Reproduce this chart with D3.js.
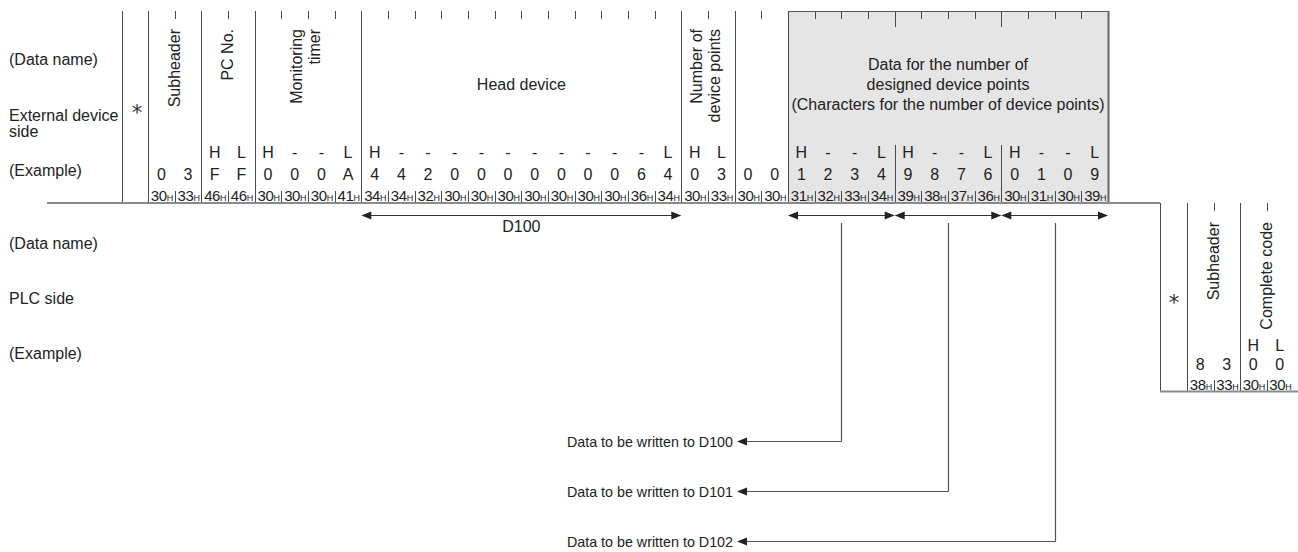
<!DOCTYPE html>
<html><head><meta charset="utf-8">
<script src="https://cdn.jsdelivr.net/npm/d3@7"></script>
<style>
body{margin:0;background:#fff}
svg text{font-family:"Liberation Sans",Arial,sans-serif;fill:#222;font-size:16px}
</style>
</head><body>
<svg id="c" width="1298" height="552"></svg>
<script>
// ---------------- data ----------------
const extFieldLines = [["Subheader"], ["PC No."], ["Monitoring", "timer"], ["Head device"],
  ["Number of", "device points"], [],
  ["Data for the number of", "designed device points", "(Characters for the number of device points)"]];
const extFieldChars = [2, 2, 4, 12, 2, 2, 12];
const extFieldRotated = [true, true, true, false, true, false, false];
const extHL = ["", "", "H", "L", "H", "-", "-", "L", "H", "-", "-", "-", "-", "-", "-", "-", "-", "-", "-", "L",
  "H", "L", "", "", "H", "-", "-", "L", "H", "-", "-", "L", "H", "-", "-", "L"];
const extValues = ["0", "3", "F", "F", "0", "0", "0", "A", "4", "4", "2", "0", "0", "0", "0", "0", "0", "0", "6", "4",
  "0", "3", "0", "0", "1", "2", "3", "4", "9", "8", "7", "6", "0", "1", "0", "9"];
const extHex = ["30", "33", "46", "46", "30", "30", "30", "41", "34", "34", "32", "30", "30", "30", "30", "30", "30", "30", "36", "34",
  "30", "33", "30", "30", "31", "32", "33", "34", "39", "38", "37", "36", "30", "31", "30", "39"];
const dataGroups = [[24, 28], [28, 32], [32, 36]];
const headSpan = [8, 20];
const headLabel = "D100";
const writeLabels = ["Data to be written to D100", "Data to be written to D101", "Data to be written to D102"];

const plcFieldLines = [["Subheader"], ["Complete code"]];
const plcFieldChars = [2, 2];
const plcHL = ["", "", "H", "L"];
const plcValues = ["8", "3", "0", "0"];
const plcHex = ["38", "33", "30", "30"];

const extRowLabels = ["(Data name)", "External device", "side", "(Example)"];
const plcRowLabels = ["(Data name)", "PLC side", "(Example)"];

// ---------------- drawing ----------------
(function () {
const svg = d3.select("#c");
const LINE = "#4a4a4a";
const x = d3.scaleLinear().domain([0, 36]).range([148, 1108]);
const xp = d3.scaleLinear().domain([0, 4]).range([1187, 1293]);

const yTop = 11, yBot = 202;

svg.append("rect").attr("x", x(24)).attr("y", yTop).attr("width", x(36) - x(24)).attr("height", yBot - yTop)
  .attr("fill", "#e5e5e5");
svg.append("line").attr("x1", x(24)).attr("x2", x(36)).attr("y1", yTop + 0.5).attr("y2", yTop + 0.5)
  .attr("stroke", "#555").attr("stroke-width", 1);

function vline(g, xx, y1, y2, col, w) {
  g.append("line").attr("x1", xx).attr("x2", xx).attr("y1", y1).attr("y2", y2)
    .attr("stroke", col || LINE).attr("stroke-width", w || 1);
}
function hline(g, x1, x2, yy, col, w) {
  g.append("line").attr("x1", x1).attr("x2", x2).attr("y1", yy).attr("y2", yy)
    .attr("stroke", col || LINE).attr("stroke-width", w || 1);
}
function star(g, cx, cy) {
  g.append("text").attr("x", cx).attr("y", cy + 12).attr("text-anchor", "middle")
    .style("font-family", "'DejaVu Sans'").style("font-size", "21px")
    .style("fill", "#333").text("*");
}

const bounds = [0];
extFieldChars.forEach(c => bounds.push(bounds[bounds.length - 1] + c));
vline(svg, 122.5, yTop, yBot);
bounds.forEach((b, i) => {
  const last = i === bounds.length - 1;
  vline(svg, Math.round(x(b)) + 0.5, yTop, yBot, last ? "#666" : LINE, last ? 2 : 1);
});
const groupBounds = dataGroups.slice(1).map(g => g[0]);
d3.range(1, 36).filter(i => !bounds.includes(i)).forEach(i => {
  const xx = Math.round(x(i)) + 0.5;
  const isGroup = groupBounds.includes(i);
  vline(svg, xx, yTop, isGroup ? yTop + 16 : yTop + 8);
  if (isGroup) vline(svg, xx, 145, yBot);
  else vline(svg, xx, yBot - 11, yBot);
});

star(svg, 137, 108);

extFieldLines.forEach((lines, i) => {
  const cx = (x(bounds[i]) + x(bounds[i + 1])) / 2;
  if (extFieldRotated[i]) {
    const n = lines.length;
    lines.forEach((t, k) => {
      const lx = n === 1 ? cx + 5 : cx - 6 + k * 18;
      svg.append("text").attr("transform", `translate(${lx},29) rotate(-90)`)
        .attr("text-anchor", "end").text(t);
    });
  } else if (lines.length === 1) {
    svg.append("text").attr("x", cx).attr("y", 90).attr("text-anchor", "middle").text(lines[0]);
  } else {
    lines.forEach((t, k) => {
      svg.append("text").attr("x", cx).attr("y", 70 + k * 20).attr("text-anchor", "middle").text(t);
    });
  }
});

function cellRows(g, scale, hl, vals, hex, yHL, yV, yHex) {
  hl.forEach((t, i) => {
    if (t) g.append("text").attr("x", (scale(i) + scale(i + 1)) / 2).attr("y", yHL).attr("text-anchor", "middle").text(t);
  });
  vals.forEach((t, i) => {
    g.append("text").attr("x", (scale(i) + scale(i + 1)) / 2).attr("y", yV).attr("text-anchor", "middle").text(t);
  });
  hex.forEach((t, i) => {
    const tx = g.append("text").attr("x", (scale(i) + scale(i + 1)) / 2 + 0.5).attr("y", yHex).attr("text-anchor", "middle")
      .style("letter-spacing", "-0.4px").style("font-size", "15px");
    tx.append("tspan").text(t);
    tx.append("tspan").style("font-size", "9px").text("H");
  });
}
cellRows(svg, x, extHL, extValues, extHex, 158, 180, 200.5);

hline(svg, 47, 1160, 203, "#8a8a8a", 2);

const rowY1 = [65, 120.5, 136.5, 176];
extRowLabels.forEach((t, i) => svg.append("text").attr("x", 9).attr("y", rowY1[i]).text(t));
const rowY2 = [248.5, 303.5, 359];
plcRowLabels.forEach((t, i) => svg.append("text").attr("x", 9).attr("y", rowY2[i]).text(t));

function arrowHead(g, xt, yy, dir) {
  const L = 10, H = 4;
  g.append("path").attr("d", `M${xt},${yy}L${xt - dir * L},${yy - H}L${xt - dir * L},${yy + H}Z`).attr("fill", "#222");
}
function dblArrow(g, x1, x2, yy) {
  hline(g, x1 + 4, x2 - 4, yy, "#333", 1.2);
  arrowHead(g, x1, yy, -1);
  arrowHead(g, x2, yy, 1);
}
const ay = 215.5;
dblArrow(svg, x(headSpan[0]), x(headSpan[1]), ay);
svg.append("text").attr("x", (x(headSpan[0]) + x(headSpan[1])) / 2).attr("y", 231.5).attr("text-anchor", "middle").text(headLabel);
dataGroups.forEach(g => dblArrow(svg, x(g[0]), x(g[1]), ay));

const leadY = [441, 491, 541];
dataGroups.forEach((g, i) => {
  const cx = Math.round((x(g[0]) + x(g[1])) / 2) + 0.5;
  vline(svg, cx, 223, leadY[i] + 0.5, "#555", 1.2);
  hline(svg, 742, cx, leadY[i] + 0.5, "#555", 1.2);
  arrowHead(svg, 737, leadY[i] + 0.5, -1);
  svg.append("text").attr("x", 733).attr("y", leadY[i] + 5.5).attr("text-anchor", "end")
    .style("font-size", "14.3px").text(writeLabels[i]);
});

const pTop = 203, pBot = 391;
const pb = [0];
plcFieldChars.forEach(c => pb.push(pb[pb.length - 1] + c));
vline(svg, 1160.5, pTop, pBot);
pb.slice(0, -1).forEach(b => vline(svg, Math.round(xp(b)) + 0.5, pTop, pBot));
d3.range(1, 4).filter(i => !pb.includes(i)).forEach(i => {
  const xx = Math.round(xp(i)) + 0.5;
  vline(svg, xx, pTop, pTop + 8);
  vline(svg, xx, pBot - 11, pBot);
});
hline(svg, 1160, 1298, pBot + 0.5, "#8a8a8a", 2);
star(svg, 1174, 298);
plcFieldLines.forEach((lines, i) => {
  const cx = (xp(pb[i]) + xp(pb[i + 1])) / 2;
  svg.append("text").attr("transform", `translate(${cx + 5},222) rotate(-90)`).attr("text-anchor", "end").text(lines[0]);
});
cellRows(svg, xp, plcHL, plcValues, plcHex, 351, 370, 389.5);
})();
</script>
</body></html>
